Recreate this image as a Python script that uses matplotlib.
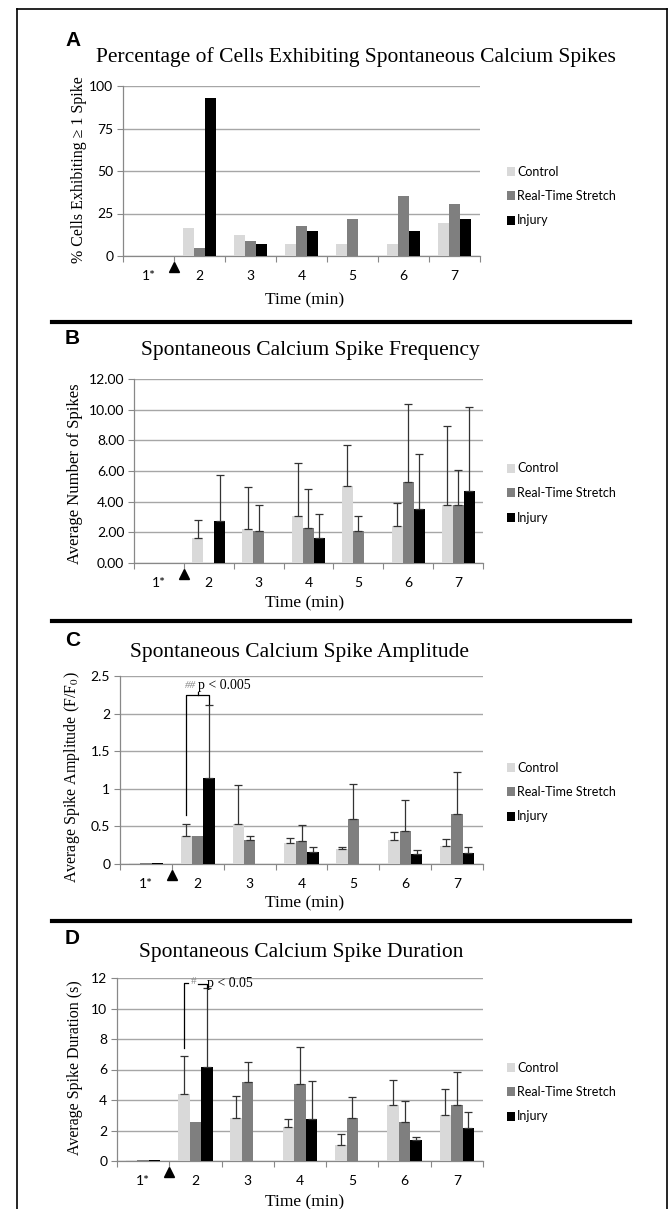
import matplotlib
matplotlib.use("Agg")
import matplotlib.pyplot as plt
from matplotlib.patches import Patch
from matplotlib.lines import Line2D
import numpy as np

W, H = 670, 1209
groups = ["1*", "2", "3", "4", "5", "6", "7"]
series = ["Control", "Real-Time Stretch", "Injury"]
colors = ["#d9d9d9", "#7f7f7f", "#000000"]

# A: % cells exhibiting >= 1 spike
pct_control = [0, 16.7, 12.4, 7.3, 7.3, 7.3, 19.2]
pct_stretch = [0, 4.5, 8.8, 17.6, 21.8, 35.1, 30.6]
pct_injury = [0, 93.1, 7.3, 14.7, 0, 14.7, 21.8]

# B: average number of spikes (+ upper error)
freq_control = [0, 1.63, 2.24, 3.07, 5.04, 2.39, 3.80]
freq_stretch = [0, 0, 2.07, 2.28, 2.07, 5.28, 3.76]
freq_injury = [0, 2.76, 0, 1.63, 0, 3.54, 4.72]
freq_control_err = [0, 1.15, 2.69, 3.45, 2.66, 1.52, 5.11]
freq_stretch_err = [0, 0, 1.73, 2.52, 0.97, 5.11, 2.28]
freq_injury_err = [0, 2.98, 0, 1.59, 0, 3.55, 5.48]

# C: spike amplitude (F/F0)
amp_control = [0.01, 0.377, 0.53, 0.28, 0.204, 0.32, 0.244]
amp_stretch = [0.01, 0.377, 0.32, 0.306, 0.603, 0.443, 0.66]
amp_injury = [0.01, 1.14, 0, 0.16, 0, 0.133, 0.15]
amp_control_err = [0, 0.16, 0.516, 0.07, 0.016, 0.106, 0.084]
amp_stretch_err = [0, 0, 0.057, 0.208, 0.457, 0.404, 0.56]
amp_injury_err = [0, 0.97, 0, 0.066, 0, 0.057, 0.076]

# D: spike duration (s)
dur_control = [0.04, 4.4, 2.8, 2.21, 1.03, 3.66, 3.0]
dur_stretch = [0.04, 2.54, 5.19, 5.06, 2.8, 2.58, 3.66]
dur_injury = [0.04, 6.17, 0, 2.76, 0, 1.36, 2.15]
dur_control_err = [0, 2.5, 1.49, 0.53, 0.77, 1.66, 1.73]
dur_stretch_err = [0, 0, 1.29, 2.41, 1.4, 1.36, 2.16]
dur_injury_err = [0, 5.15, 0, 2.5, 0, 0.22, 1.09]

plt.rcParams["font.family"] = ["Liberation Serif", "DejaVu Serif"]
plt.rcParams["mathtext.fontset"] = "stix"
sans = ["Lato", "DejaVu Sans"]

fig = plt.figure(figsize=(W / 100, H / 100), dpi=100)


def fx(px):
    return px / W


def fy(py):
    return 1 - py / H


def make_axes(left, top, right, bottom):
    return fig.add_axes([fx(left), fy(bottom), fx(right) - fx(left), (bottom - top) / H])


def draw_panel(ax, vals, errs, ylim, yticks, ylabels, axh):
    x = np.arange(len(groups))
    bw = 0.22
    for i in range(3):
        ax.bar(x + (i - 1) * bw, vals[i], bw, color=colors[i], zorder=3)
        if errs is not None:
            e = np.array(errs[i])
            m = e > 0
            ax.errorbar(x[m] + (i - 1) * bw, np.array(vals[i])[m],
                        yerr=[np.zeros(m.sum()), e[m]], fmt="none",
                        ecolor="#333333", elinewidth=0.9, capsize=3, capthick=0.9, zorder=4)
    ax.set_xlim(-0.5, 6.5)
    ax.set_ylim(*ylim)
    ax.set_yticks(yticks)
    ax.set_yticklabels(ylabels, fontfamily=sans, fontsize=10)
    ax.set_xticks(np.arange(-0.5, 7, 1))
    ax.set_xticklabels([])
    ax.set_xticks(x, minor=True)
    ax.set_xticklabels(groups, minor=True, fontfamily=sans, fontsize=10)
    ax.tick_params(axis="x", which="major", length=4, color="#888888", width=0.8)
    ax.tick_params(axis="x", which="minor", length=0, pad=10)
    ax.tick_params(axis="y", length=4, color="#888888", width=0.8, pad=3)
    ax.grid(axis="y", color="#a6a6a6", lw=1, zorder=0)
    for s in ["top", "right"]:
        ax.spines[s].set_visible(False)
    for s in ["left", "bottom"]:
        ax.spines[s].set_color("#888888")
        ax.spines[s].set_linewidth(0.9)
    ax.plot(0.5, -11 / axh, marker="^", color="black", markersize=7,
            transform=ax.get_xaxis_transform(), clip_on=False)


def legend(ycenter):
    handles = [Patch(facecolor=c, edgecolor="none") for c in colors]
    fig.legend(handles, series, loc="center left",
               bbox_to_anchor=(fx(502), fy(ycenter)), frameon=False,
               prop={"family": sans, "size": 9}, handlelength=0.6, handleheight=0.7,
               handletextpad=0.2, labelspacing=1.0, borderaxespad=0)


# panel A
axA = make_axes(123, 86, 480, 256)
draw_panel(axA, [pct_control, pct_stretch, pct_injury], None, (0, 100),
           [0, 25, 50, 75, 100], ["0", "25", "50", "75", "100"], 170)
fig.text(fx(356), fy(57), "Percentage of Cells Exhibiting Spontaneous Calcium Spikes",
         ha="center", va="center", fontsize=15.5)
fig.text(fx(79), fy(170), "% Cells Exhibiting \u2265 1 Spike", rotation=90,
         ha="center", va="center", fontsize=11.5)
fig.text(fx(305), fy(300), "Time (min)", ha="center", va="center", fontsize=12.5)
legend(196)

# panel B
axB = make_axes(134, 379, 483, 563)
draw_panel(axB, [freq_control, freq_stretch, freq_injury],
           [freq_control_err, freq_stretch_err, freq_injury_err], (0, 12),
           np.arange(0, 13, 2), ["%.2f" % v for v in np.arange(0, 13, 2)], 184)
fig.text(fx(310), fy(350), "Spontaneous Calcium Spike Frequency",
         ha="center", va="center", fontsize=15.5)
fig.text(fx(75), fy(474), "Average Number of Spikes", rotation=90,
         ha="center", va="center", fontsize=12)
fig.text(fx(305), fy(603), "Time (min)", ha="center", va="center", fontsize=12.5)
legend(493)

# panel C
axC = make_axes(120, 676, 483, 864)
draw_panel(axC, [amp_control, amp_stretch, amp_injury],
           [amp_control_err, amp_stretch_err, amp_injury_err], (0, 2.5),
           [0, 0.5, 1, 1.5, 2, 2.5], ["0", "0.5", "1", "1.5", "2", "2.5"], 188)
fig.text(fx(300), fy(652), "Spontaneous Calcium Spike Amplitude",
         ha="center", va="center", fontsize=15.5)
fig.text(fx(72), fy(777), r"Average Spike Amplitude (F/F$_0$)", rotation=90,
         ha="center", va="center", fontsize=11.5)
fig.text(fx(305), fy(903), "Time (min)", ha="center", va="center", fontsize=12.5)
legend(792)
cx, rx, ix = 1 - 0.22, 1, 1 + 0.22
axC.plot([cx, cx, ix, ix], [0.65, 2.25, 2.25, 2.13], color="black", lw=0.9, zorder=5)
axC.plot([rx, rx], [2.25, 2.29], color="black", lw=0.9, zorder=5)
axC.text(cx - 0.02, 2.38, "##", color="#888888", fontsize=8, ha="left", va="center",
         fontstyle="italic")
axC.text(cx + 0.23, 2.38, "p < 0.005", fontsize=10, ha="left", va="center")

# panel D
axD = make_axes(117, 978, 483, 1161)
draw_panel(axD, [dur_control, dur_stretch, dur_injury],
           [dur_control_err, dur_stretch_err, dur_injury_err], (0, 12),
           np.arange(0, 13, 2), [str(v) for v in range(0, 13, 2)], 183)
fig.text(fx(301), fy(952), "Spontaneous Calcium Spike Duration",
         ha="center", va="center", fontsize=15.5)
fig.text(fx(75), fy(1068), "Average Spike Duration (s)", rotation=90,
         ha="center", va="center", fontsize=11.5)
fig.text(fx(305), fy(1202), "Time (min)", ha="center", va="center", fontsize=12.5)
legend(1092)
axD.plot([cx, cx, cx + 0.08], [7.4, 11.65, 11.65], color="black", lw=0.9, zorder=5,
         clip_on=False)
axD.plot([rx + 0.05, ix, ix], [11.6, 11.6, 11.32], color="black", lw=0.9, zorder=5)
axD.text(cx + 0.14, 11.75, "#", color="#888888", fontsize=8, ha="left", va="center")
axD.text(cx + 0.44, 11.67, "p < 0.05", fontsize=10, ha="left", va="center")

# panel letters
for lbl, yy in zip("ABCD", [40, 338, 640, 938]):
    fig.text(fx(65), fy(yy), lbl, fontfamily=["Liberation Sans", "DejaVu Sans"],
             fontweight="bold", fontsize=15, ha="left", va="center")

# outer frame and separators
frame = dict(color="black", lw=1.2, transform=fig.transFigure)
fig.add_artist(Line2D([fx(17), fx(17)], [fy(9), 0], **frame))
fig.add_artist(Line2D([fx(667), fx(667)], [fy(9), 0], **frame))
fig.add_artist(Line2D([fx(17), fx(667)], [fy(9), fy(9)], **frame))
for yy in [322, 621, 921]:
    fig.add_artist(Line2D([fx(52), fx(630)], [fy(yy), fy(yy)], color="black", lw=3,
                          transform=fig.transFigure))

fig.savefig("out.png", dpi=100)
